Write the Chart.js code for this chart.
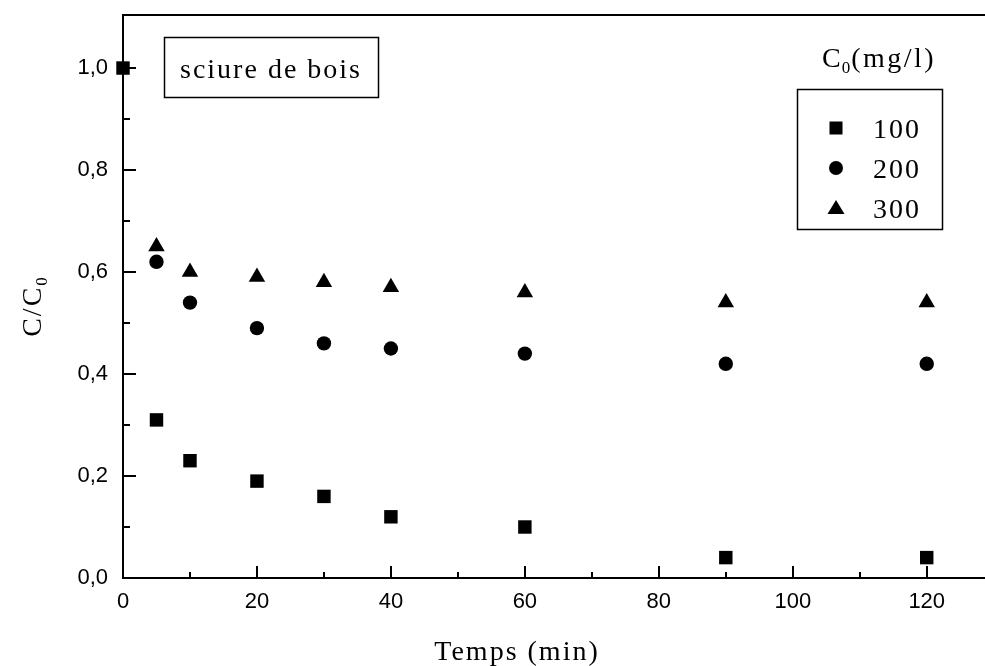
<!DOCTYPE html>
<html lang="fr">
  <head>
    <meta charset="utf-8">
    <title>sciure de bois</title>
    <style>
      html, body { margin: 0; padding: 0; background: #fff; }
      #wrap { width: 985px; height: 666px; }
    </style>
  </head>
  <body>
    <div id="wrap"><canvas id="kinChart" width="985" height="666"></canvas></div>
  <script src="https://cdn.jsdelivr.net/npm/chart.js@4/dist/chart.umd.min.js"></script>
  <script>
  // temps (min) et C/C0 pour chaque concentration initiale
  var TIME_100 = [0, 5, 10, 20, 30, 40, 60, 90, 120];
  var C_100 = [1.0, 0.31, 0.23, 0.19, 0.16, 0.12, 0.10, 0.04, 0.04];
  var TIME = [5, 10, 20, 30, 40, 60, 90, 120];
  var C_200 = [0.62, 0.54, 0.49, 0.46, 0.45, 0.44, 0.42, 0.42];
  var C_300 = [0.65, 0.60, 0.59, 0.58, 0.57, 0.56, 0.54, 0.54];
  var LABELS = ['100', '200', '300'];
  var X_MAJOR = [0, 20, 40, 60, 80, 100, 120];
  var Y_MAJOR = [0, 0.2, 0.4, 0.6, 0.8, 1.0];

  var SERIF = '"Liberation Serif", "Times New Roman", serif';
  var SANS = '"Liberation Sans", Arial, sans-serif';

  function pts(xs, ys){
    return xs.map(function(x, i){ return {x: x, y: ys[i]}; });
  }

  var styles = [
    {pointStyle: 'rect', pointRadius: 9.5},
    {pointStyle: 'circle', pointRadius: 7.2},
    {pointStyle: 'triangle', pointRadius: 9.5}
  ];
  var series = [pts(TIME_100, C_100), pts(TIME, C_200), pts(TIME, C_300)];
  var datasets = series.map(function(d, i){
    return {
      label: LABELS[i], data: d, showLine: false, clip: false,
      pointStyle: styles[i].pointStyle, pointRadius: styles[i].pointRadius,
      pointHoverRadius: styles[i].pointRadius,
      backgroundColor: '#000', borderColor: '#000', borderWidth: 0
    };
  });

  function near(list, v){
    return list.some(function(m){ return Math.abs(m - v) < 1e-6; });
  }

  function drawSpaced(ctx, text, x, y, spacing){
    ctx.letterSpacing = spacing + 'px';
    ctx.fillText(text, x, y);
    var w = ctx.measureText(text).width;
    ctx.letterSpacing = '0px';
    return w;
  }

  var decor = {
    id: 'decor',
    afterDraw: function(chart){
      var ctx = chart.ctx, a = chart.chartArea;
      var xs = chart.scales.x, ys = chart.scales.y;
      ctx.save();
      ctx.strokeStyle = '#000';
      ctx.fillStyle = '#000';

      // cadre du haut
      ctx.lineWidth = 2;
      ctx.beginPath();
      ctx.moveTo(a.left, a.top);
      ctx.lineTo(a.right, a.top);
      ctx.stroke();

      // graduations vers l'intérieur
      ctx.lineWidth = 2;
      ctx.beginPath();
      for (var v = 0; v <= 120.001; v += 10){
        var px = Math.round(xs.getPixelForValue(v));
        var len = near(X_MAJOR, v) ? 12 : 6;
        ctx.moveTo(px, a.bottom);
        ctx.lineTo(px, a.bottom - len);
      }
      for (var k = 0; k <= 10; k++){
        var yv = k / 10;
        var py = Math.round(ys.getPixelForValue(yv));
        var l2 = near(Y_MAJOR, yv) ? 13 : 7;
        ctx.moveTo(a.left, py);
        ctx.lineTo(a.left + l2, py);
      }
      ctx.stroke();

      // titre axe x
      ctx.font = '28px ' + SERIF;
      ctx.textBaseline = 'alphabetic';
      ctx.textAlign = 'left';
      ctx.letterSpacing = '2px';
      var tw = ctx.measureText('Temps (min)').width;
      ctx.letterSpacing = '0px';
      drawSpaced(ctx, 'Temps (min)', 517 - tw / 2, 660, 2);

      // titre axe y : C/C0
      ctx.save();
      ctx.translate(41, 307);
      ctx.rotate(-Math.PI / 2);
      ctx.font = '28px ' + SERIF;
      ctx.letterSpacing = '2px';
      var w1 = ctx.measureText('C/C').width;
      ctx.letterSpacing = '0px';
      ctx.font = '17px ' + SERIF;
      var w2 = ctx.measureText('0').width;
      var sx = -(w1 + w2) / 2;
      ctx.font = '28px ' + SERIF;
      drawSpaced(ctx, 'C/C', sx, 0, 2);
      ctx.font = '17px ' + SERIF;
      ctx.fillText('0', sx + w1, 6);
      ctx.restore();

      // cadre "sciure de bois"
      ctx.lineWidth = 1.5;
      ctx.strokeRect(164.5, 37.5, 214, 60);
      ctx.font = '28px ' + SERIF;
      ctx.letterSpacing = '2px';
      var sw = ctx.measureText('sciure de bois').width;
      ctx.letterSpacing = '0px';
      drawSpaced(ctx, 'sciure de bois', 271 - sw / 2, 78, 2);

      // légende
      ctx.font = '28px ' + SERIF;
      var cx = 822;
      cx += drawSpaced(ctx, 'C', cx, 67, 1);
      ctx.font = '17px ' + SERIF;
      ctx.fillText('0', cx, 73);
      cx += ctx.measureText('0').width + 1;
      ctx.font = '28px ' + SERIF;
      drawSpaced(ctx, '(mg/l)', cx, 67, 2.5);

      ctx.lineWidth = 1.5;
      ctx.strokeRect(797.5, 89.5, 145, 140);
      var rowsY = [128, 168, 208];
      rowsY.forEach(function(ry, i){
        ctx.beginPath();
        if (i === 0){
          ctx.rect(836 - 6.5, ry - 6.5, 13, 13);
        } else if (i === 1){
          ctx.arc(836, ry, 7, 0, Math.PI * 2);
        } else {
          ctx.moveTo(836, ry - 8);
          ctx.lineTo(836 + 8.5, ry + 6);
          ctx.lineTo(836 - 8.5, ry + 6);
          ctx.closePath();
        }
        ctx.fill();
        ctx.font = '28px ' + SERIF;
        drawSpaced(ctx, LABELS[i], 873, ry + 10, 2);
      });

      ctx.restore();
    }
  };

  var ctx = document.getElementById('kinChart').getContext('2d');
  var chart = new Chart(ctx, {
    type: 'scatter',
    data: { datasets: datasets },
    options: {
      responsive: false,
      animation: false,
      events: [],
      layout: { autoPadding: false, padding: { left: 0, right: 0, top: 15, bottom: 0 } },
      plugins: { legend: { display: false }, tooltip: { enabled: false } },
      scales: {
        x: {
          type: 'linear', min: 0, max: 128.7,
          afterBuildTicks: function(s){
            s.ticks = X_MAJOR.map(function(v){ return {value: v}; });
          },
          afterFit: function(s){
            s.height = 88;
            s.paddingLeft = 0; s.paddingRight = 0;
          },
          grid: { display: true, drawOnChartArea: false, drawTicks: false },
          border: { display: true, color: '#000', width: 2 },
          ticks: {
            padding: 11, color: '#000', maxRotation: 0, autoSkip: false,
            font: { family: SANS, size: 22 },
            callback: function(v){ return String(v); }
          }
        },
        y: {
          type: 'linear', min: 0, max: 1.104,
          afterBuildTicks: function(s){
            s.ticks = Y_MAJOR.map(function(v){ return {value: v}; });
          },
          afterFit: function(s){
            s.width = 123;
            s.paddingTop = 0; s.paddingBottom = 0;
          },
          grid: { display: true, drawOnChartArea: false, drawTicks: false },
          border: { display: true, color: '#000', width: 2 },
          ticks: {
            padding: 15, color: '#000', autoSkip: false,
            font: { family: SANS, size: 22 },
            callback: function(v){ return Number(v).toFixed(1).replace('.', ','); }
          }
        }
      }
    },
    plugins: [decor]
  });
  </script>
  </body>
</html>
